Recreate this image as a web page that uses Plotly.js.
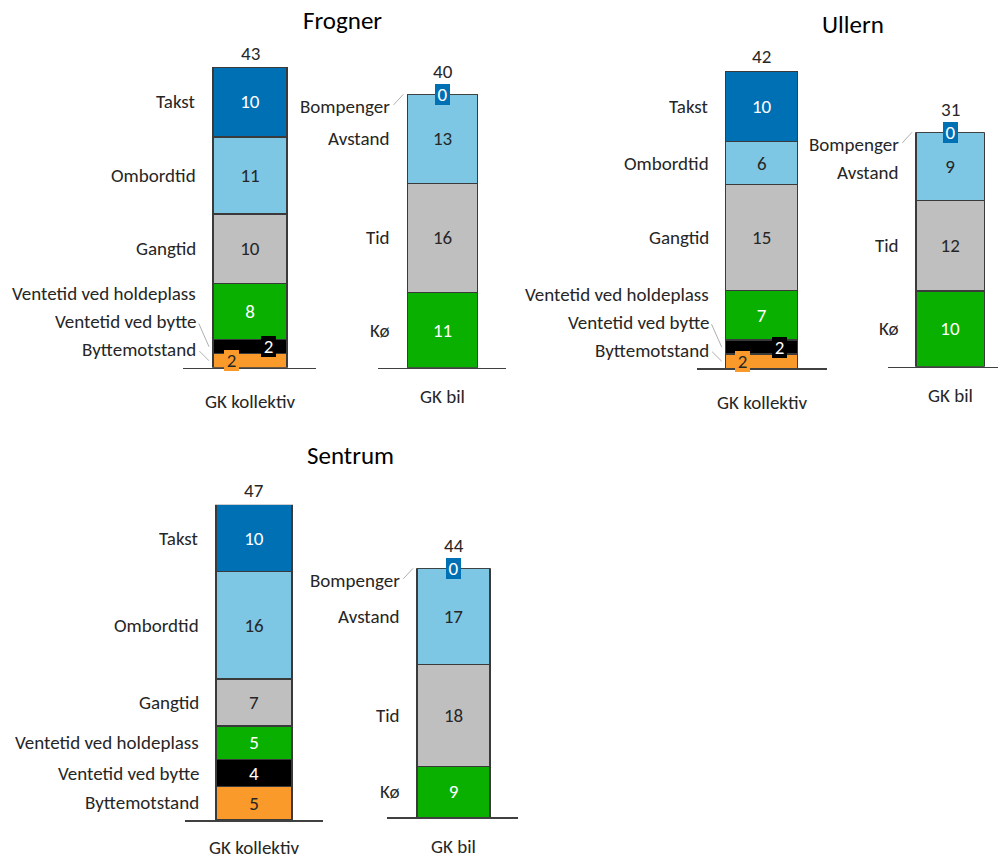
<!DOCTYPE html>
<html>
<head>
<meta charset="utf-8">
<script src="https://cdn.plot.ly/plotly-3.0.1.min.js"></script>
<style>
  html, body { margin: 0; padding: 0; background: #ffffff; }
  #chart { width: 998px; height: 861px; }
</style>
</head>
<body>
<div id="chart"></div>
<script>
// ---- data (segments listed bottom to top) ----
const areas = ['Frogner', 'Ullern', 'Sentrum'];
const groups = ['GK kollektiv', 'GK bil'];
const kollektivCategories = ['Byttemotstand', 'Ventetid ved bytte', 'Ventetid ved holdeplass', 'Gangtid', 'Ombordtid', 'Takst'];
const bilCategories = ['Kø', 'Tid', 'Avstand', 'Bompenger'];

const frognerKollektiv = [2, 2, 8, 10, 11, 10];
const frognerBil = [11, 16, 13, 0];
const ullernKollektiv = [2, 2, 7, 15, 6, 10];
const ullernBil = [10, 12, 9, 0];
const sentrumKollektiv = [5, 4, 5, 7, 16, 10];
const sentrumBil = [9, 18, 17, 0];

// ---- styling ----
const FONT = 'Carlito, Lato, "Liberation Sans", sans-serif';
const LABEL_SIZE = 19;
const TEXT_DARK = '#262626';
const W = 998, H = 861;

const segmentStyle = {
  'Takst':                   { fill: '#0070B4', text: '#ffffff' },
  'Bompenger':               { fill: '#0070B4', text: '#ffffff', callout: 0 },
  'Ombordtid':               { fill: '#7DC6E4', text: TEXT_DARK },
  'Avstand':                 { fill: '#7DC6E4', text: TEXT_DARK },
  'Gangtid':                 { fill: '#BFBFBF', text: TEXT_DARK },
  'Tid':                     { fill: '#BFBFBF', text: TEXT_DARK },
  'Ventetid ved holdeplass': { fill: '#09B000', text: '#ffffff' },
  'Kø':                      { fill: '#09B000', text: '#ffffff' },
  'Ventetid ved bytte':      { fill: '#000000', text: '#ffffff', callout: 18 },
  'Byttemotstand':           { fill: '#F99A2A', text: TEXT_DARK, callout: -19 }
};
const CALLOUT_BELOW = 3;   // segments thinner than this get a boxed value label

// pixel frames of the six small charts: baseline extent, bar edges, bar top
const frames = [
  { area: 0, group: 0, cats: kollektivCategories, vals: frognerKollektiv, L: 183, R: 316, base: 367.7, top: 67,    bl: 213,   br: 287,   gap: 34 },
  { area: 0, group: 1, cats: bilCategories,       vals: frognerBil,       L: 378, R: 506, base: 367.7, top: 94.3,  bl: 407.3, br: 477.7, gap: 29 },
  { area: 1, group: 0, cats: kollektivCategories, vals: ullernKollektiv,  L: 697, R: 827, base: 368.3, top: 71,    bl: 725.7, br: 797.7, gap: 34 },
  { area: 1, group: 1, cats: bilCategories,       vals: ullernBil,        L: 888, R: 998, base: 366.7, top: 132.3, bl: 916,   br: 984.3, gap: 29 },
  { area: 2, group: 0, cats: kollektivCategories, vals: sentrumKollektiv, L: 185, R: 323, base: 820,   top: 504.7, bl: 216,   br: 292,   gap: 27.5 },
  { area: 2, group: 1, cats: bilCategories,       vals: sentrumBil,       L: 387, R: 518, base: 817.3, top: 568.3, bl: 417,   br: 490,   gap: 29 }
];
const titlePos = [
  { x: 342, y: 20 },
  { x: 853, y: 25 },
  { x: 350, y: 455 }
];

const traces = [];
const annotations = [];
const layout = {
  width: W, height: H,
  margin: { l: 0, r: 0, t: 0, b: 0 },
  paper_bgcolor: '#ffffff', plot_bgcolor: 'rgba(0,0,0,0)',
  barmode: 'stack',
  showlegend: false,
  font: { family: FONT, size: LABEL_SIZE, color: TEXT_DARK }
};

frames.forEach((f, i) => {
  const n = i + 1;
  const xa = 'x' + (n === 1 ? '' : n), ya = 'y' + (n === 1 ? '' : n);
  const total = f.vals.reduce((a, b) => a + b, 0);
  const c = (f.bl + f.br) / 2, w = f.br - f.bl;
  const pxPerUnit = (f.base - f.top) / total;

  layout['xaxis' + (n === 1 ? '' : n)] = {
    domain: [f.L / W, Math.min(1, f.R / W)],
    range: [(f.L - c) / w, (Math.min(W, f.R) - c) / w],
    anchor: ya, showgrid: false, zeroline: false, showticklabels: false, ticks: '',
    showline: true, linecolor: '#404040', linewidth: 1.5, fixedrange: true
  };
  layout['yaxis' + (n === 1 ? '' : n)] = {
    domain: [1 - f.base / H, 1 - f.top / H],
    range: [0, total], anchor: xa, visible: false, fixedrange: true
  };

  // stacked segments
  let cum = 0;
  const centers = [];
  f.cats.forEach((cat, k) => {
    const v = f.vals[k];
    const st = segmentStyle[cat];
    const boxed = v < CALLOUT_BELOW;
    traces.push({
      type: 'bar', x: [0], y: [v], width: [1], xaxis: xa, yaxis: ya, name: cat,
      marker: { color: st.fill, line: { color: '#3A3A3A', width: 1.3 } },
      text: [boxed ? '' : String(v)], textposition: 'inside', insidetextanchor: 'middle',
      textangle: 0, constraintext: 'none',
      textfont: { color: st.text, size: LABEL_SIZE, family: FONT },
      hoverinfo: 'skip'
    });
    const mid = cum + v / 2;
    centers.push({ cat, v, lo: cum, hi: cum + v, mid });
    if (boxed) {
      annotations.push({
        xref: xa, yref: ya, x: 0, y: mid, xshift: st.callout || 0,
        text: String(v), showarrow: false, bgcolor: st.fill,
        font: { color: st.text, size: LABEL_SIZE, family: FONT },
        width: 15, height: 21, borderpad: 0, borderwidth: 0
      });
    }
    cum += v;
  });

  // category labels: start at segment centres, then spread them apart (pixel space)
  const toPx = val => f.base - val * pxPerUnit;
  const order = centers.slice().reverse();           // top to bottom
  const ys = order.map(s => toPx(s.mid));
  const SPACING = 28;
  ys[0] = Math.max(ys[0], f.top + 12);
  for (let k = 1; k < ys.length; k++) ys[k] = Math.max(ys[k], ys[k - 1] + SPACING);
  ys[ys.length - 1] = Math.min(ys[ys.length - 1], f.base - 18);
  for (let k = ys.length - 2; k >= 0; k--) ys[k] = Math.min(ys[k], ys[k + 1] - SPACING);

  order.forEach((s, k) => {
    const centrePx = toPx(s.mid);
    const inside = ys[k] >= toPx(s.hi) && ys[k] <= toPx(s.lo) && s.v > 0;
    if (inside) {
      annotations.push({
        xref: xa, yref: ya, x: -0.5, y: s.mid, xanchor: 'right', yanchor: 'middle',
        xshift: -15, yshift: centrePx - ys[k],
        text: s.cat, showarrow: false,
        font: { size: LABEL_SIZE, family: FONT, color: TEXT_DARK }
      });
    } else {
      annotations.push({
        xref: xa, yref: ya, x: -0.5, y: s.mid, xanchor: 'right', yanchor: 'middle',
        xshift: -4, text: s.cat, showarrow: true, arrowhead: 0,
        arrowwidth: 0.9, arrowcolor: '#A6A6A6',
        ax: -11, ay: ys[k] - centrePx, axref: 'pixel', ayref: 'pixel', startstandoff: 2,
        font: { size: LABEL_SIZE, family: FONT, color: TEXT_DARK }
      });
    }
  });

  // total above the bar
  const topBoxed = f.vals[f.vals.length - 1] < CALLOUT_BELOW;
  annotations.push({
    xref: xa, yref: ya, x: 0, y: total, xanchor: 'center', yanchor: 'middle',
    yshift: topBoxed ? 22.5 : 14,
    text: String(total), showarrow: false,
    font: { size: LABEL_SIZE, family: FONT, color: TEXT_DARK }
  });

  // group name under the baseline
  annotations.push({
    xref: xa, yref: ya, x: 0, y: 0, xanchor: 'center', yanchor: 'middle', yshift: -f.gap,
    text: groups[f.group], showarrow: false, borderpad: 0, borderwidth: 0,
    font: { size: LABEL_SIZE, family: FONT, color: TEXT_DARK }
  });
});

areas.forEach((name, k) => annotations.push({
  xref: 'paper', yref: 'paper', x: titlePos[k].x / W, y: 1 - titlePos[k].y / H,
  xanchor: 'center', yanchor: 'middle',
  text: name, showarrow: false,
  font: { size: 25, family: FONT, color: '#000000' }
}));

layout.annotations = annotations;
Plotly.newPlot('chart', traces, layout, { displayModeBar: false, staticPlot: true });
</script>
</body>
</html>
